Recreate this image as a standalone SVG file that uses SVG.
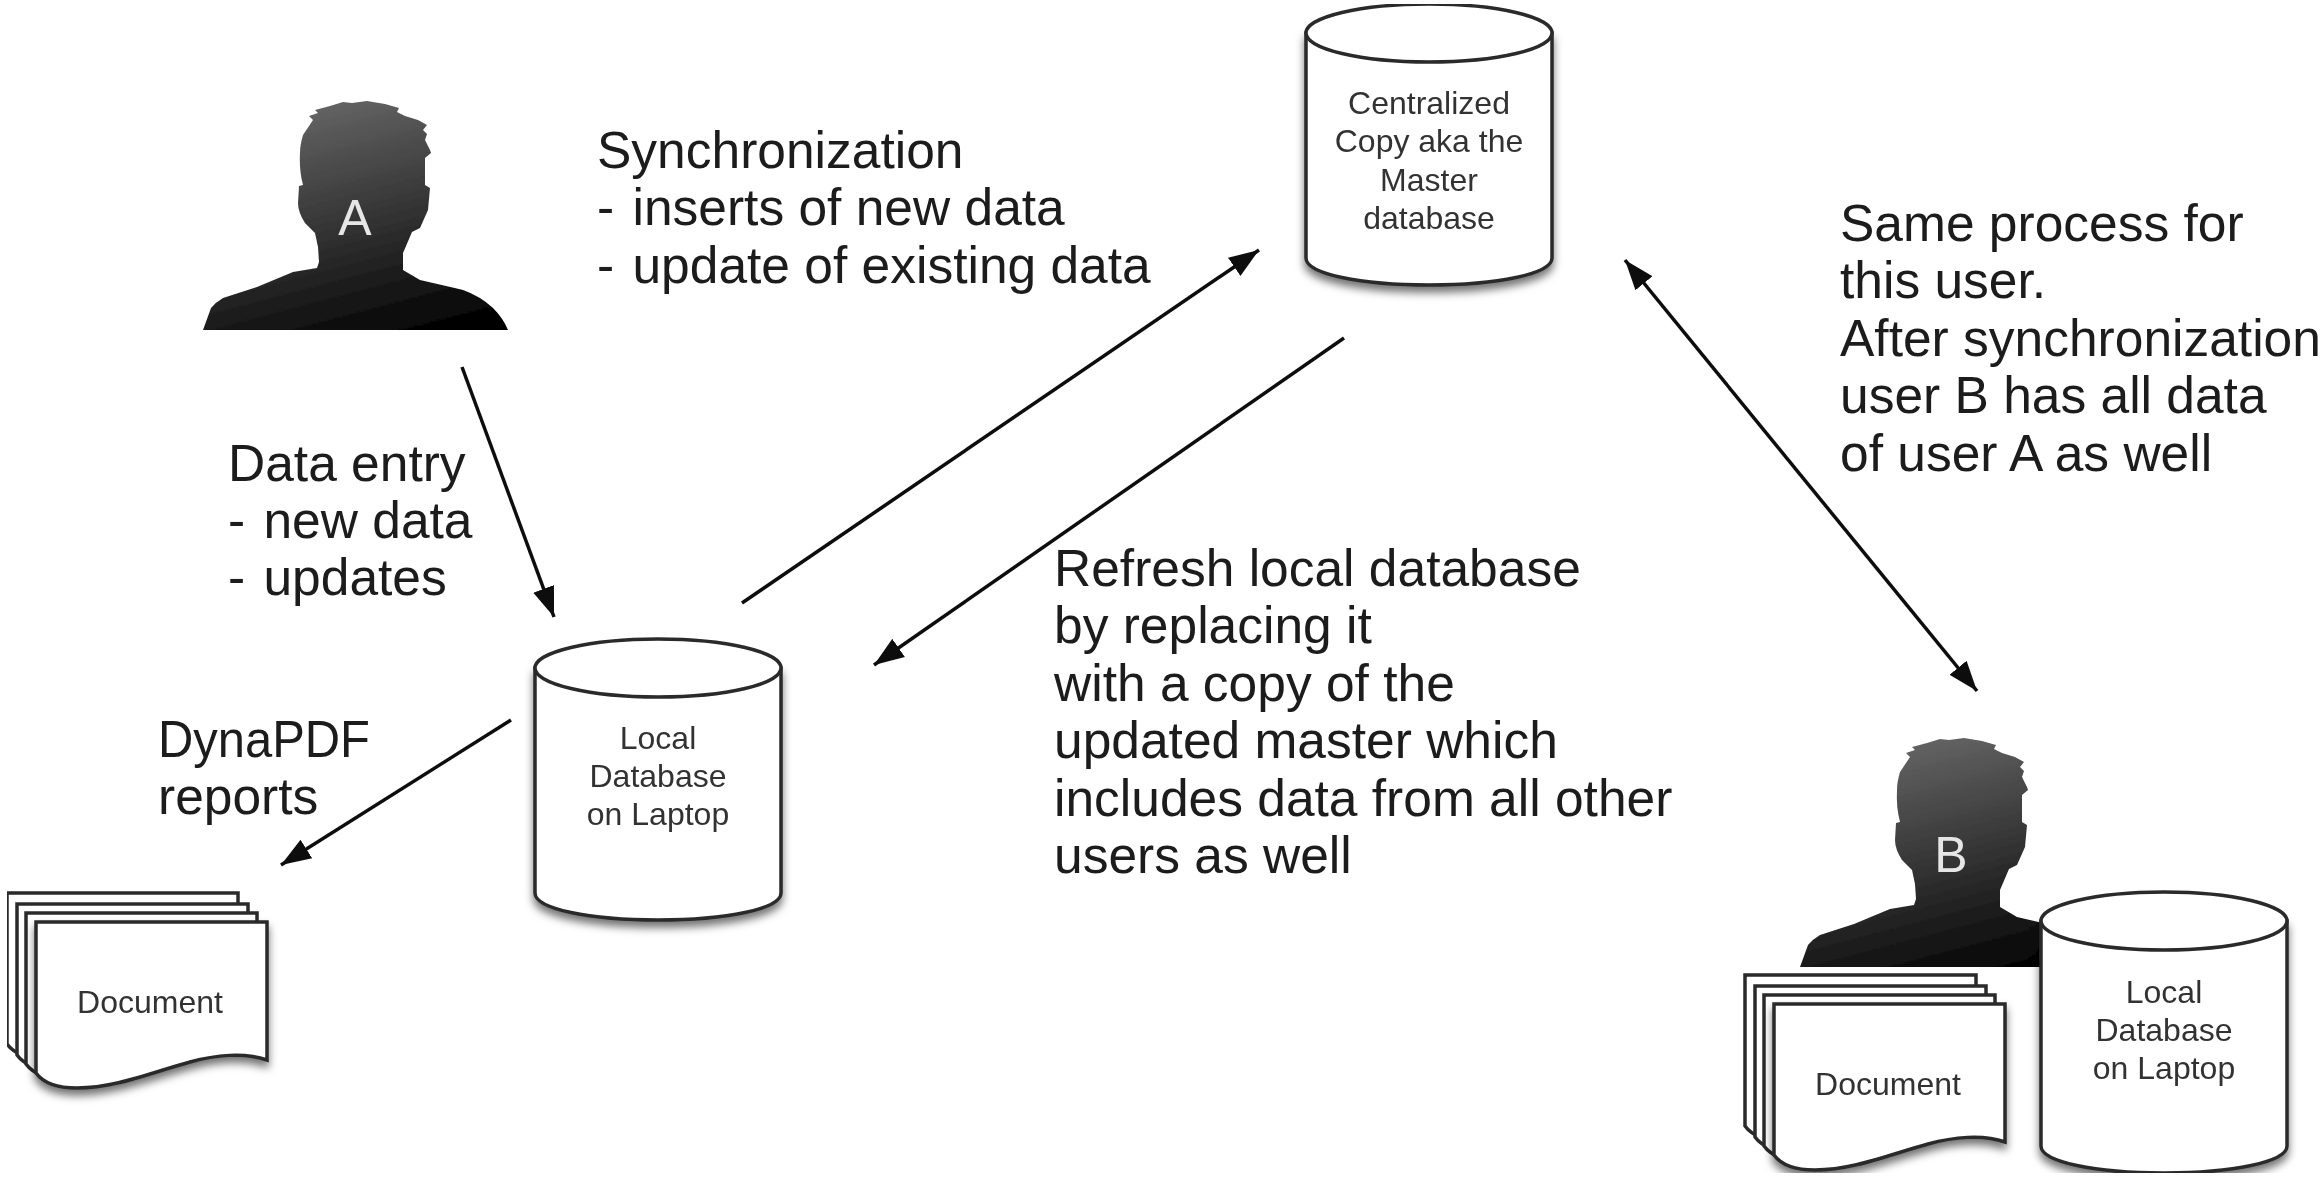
<svg xmlns="http://www.w3.org/2000/svg" xmlns:xlink="http://www.w3.org/1999/xlink" width="2323" height="1179" viewBox="0 0 2323 1179">
<style>
text{font-family:"Liberation Sans",Arial,sans-serif}
.t{font-size:51.5px;fill:#1a1a1a}
.s{font-size:32px;fill:#333;text-anchor:middle}
.l{font-size:50px;fill:#e6e6e6;text-anchor:middle}
.o{fill:#fff;stroke:#2a2a2a;stroke-width:3.5}
.c{stroke:#111;stroke-width:3.5;fill:none}
</style>
<defs>
<linearGradient id="g" x1="0.35" y1="0" x2="0.7" y2="1"><stop offset="0" stop-color="#666"/><stop offset="1" stop-color="#050505"/></linearGradient>
<filter id="sh" x="-10%" y="-10%" width="120%" height="125%"><feDropShadow dx="0" dy="6" stdDeviation="4" flood-color="#000" flood-opacity=".55"/></filter>
<filter id="soft" x="0" y="0" width="100%" height="100%"><feGaussianBlur stdDeviation="0.7"/></filter>
<marker id="a" markerUnits="userSpaceOnUse" markerWidth="32" markerHeight="26" refX="30" refY="13" orient="auto-start-reverse"><path d="M0 2L30 13L0 24z" fill="#111"/></marker>
<path id="person" d="M203 330L211 308Q216 302 223 298L257 287L293 272L317 268L319 262L318 247L315 233L305 223Q298 212 298 203L299 186L303 185Q299 170 300 153Q300 145 303 135L313 120L309 116L318 113L315 110L330 106L343 102L352 103L367 101L385 104L399 108L397 112L405 116L418 120L427 125L423 130L427 134L425 140L430 150L431 153L425 158L425 185L430 188L428 210L420 228L412 232L403 253L403 270L420 280L463 290Q480 296 493 308Q503 318 508 330Z" fill="url(#g)"/>
<g id="cyl">
<path class="o" d="M1306 33V258C1306 274 1361 285 1429 285C1497 285 1552 274 1552 258V33Z" filter="url(#sh)"/>
<ellipse class="o" cx="1429" cy="33" rx="123" ry="29"/>
</g>
<path id="sheet" class="o" d="M36 922H267V1060C245 1052 215 1055 190 1062C150 1073 115 1088 77 1088C58 1088 44 1084 36 1073Z"/>
<g id="doc">
<use xlink:href="#sheet" href="#sheet" transform="translate(-29 -29)"/>
<use xlink:href="#sheet" href="#sheet" transform="translate(-19 -18)"/>
<use xlink:href="#sheet" href="#sheet" transform="translate(-10 -9)"/>
<use xlink:href="#sheet" href="#sheet" filter="url(#sh)"/>
</g>
</defs>
<rect width="2323" height="1179" fill="#fff"/>
<g filter="url(#soft)">
<g id="connectors">
<line class="c" x1="462" y1="367" x2="554" y2="617" marker-end="url(#a)"/>
<line class="c" x1="742" y1="603" x2="1259" y2="250" marker-end="url(#a)"/>
<line class="c" x1="1344" y1="338" x2="874" y2="665" marker-end="url(#a)"/>
<line class="c" x1="1625" y1="260" x2="1977" y2="691" marker-start="url(#a)" marker-end="url(#a)"/>
<line class="c" x1="511" y1="720" x2="281" y2="865" marker-end="url(#a)"/>
</g>
<g id="user-a"><use xlink:href="#person" href="#person"/><text class="l" x="355" y="235">A</text></g>
<g id="master"><use xlink:href="#cyl" href="#cyl"/>
<text class="s" x="1429" y="114">Centralized</text><text class="s" x="1429" y="152">Copy aka the</text><text class="s" x="1429" y="191">Master</text><text class="s" x="1429" y="229">database</text></g>
<g id="local-a"><use xlink:href="#cyl" href="#cyl" transform="translate(-771 635)"/>
<text class="s" x="658" y="749">Local</text><text class="s" x="658" y="787">Database</text><text class="s" x="658" y="825">on Laptop</text></g>
<g id="doc-a"><use xlink:href="#doc" href="#doc"/><text class="s" x="150" y="1013">Document</text></g>
<g id="user-b"><use xlink:href="#person" href="#person" transform="translate(1597 637)"/><text class="l" x="1951" y="872">B</text></g>
<g id="local-b"><use xlink:href="#cyl" href="#cyl" transform="translate(735 888)"/>
<text class="s" x="2164" y="1003">Local</text><text class="s" x="2164" y="1041">Database</text><text class="s" x="2164" y="1079">on Laptop</text></g>
<g id="doc-b"><use xlink:href="#doc" href="#doc" transform="translate(1738 82)"/><text class="s" x="1888" y="1095">Document</text></g>
<g id="labels">
<text class="t" x="597" y="168">Synchronization</text><text class="t" x="597" y="225">- <tspan dx="4">inserts of new data</tspan></text><text class="t" x="597" y="283">- <tspan dx="4">update of existing data</tspan></text>
<text class="t" x="228" y="481">Data entry</text><text class="t" x="228" y="538">- <tspan dx="4">new data</tspan></text><text class="t" x="228" y="595">- <tspan dx="4">updates</tspan></text>
<text class="t" x="158" y="757" textLength="212" lengthAdjust="spacingAndGlyphs">DynaPDF</text><text class="t" x="158" y="814">reports</text>
<text class="t" x="1054" y="586">Refresh local database</text><text class="t" x="1054" y="643">by replacing it</text><text class="t" x="1054" y="701">with a copy of the</text><text class="t" x="1054" y="758">updated master which</text><text class="t" x="1054" y="816">includes data from all other</text><text class="t" x="1054" y="873">users as well</text>
<text class="t" x="1840" y="241">Same process for</text><text class="t" x="1840" y="298">this user.</text><text class="t" x="1840" y="356">After synchronization</text><text class="t" x="1840" y="413">user B has all data</text><text class="t" x="1840" y="471">of user A as well</text>
</g>
</g>
</svg>
